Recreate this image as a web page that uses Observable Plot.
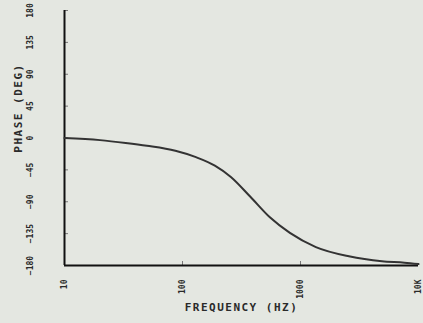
<!DOCTYPE html>
<html>
<head>
<meta charset="utf-8">
<script src="https://cdn.jsdelivr.net/npm/d3@7"></script>
<script src="https://cdn.jsdelivr.net/npm/@observablehq/plot@0.6"></script>
<style>
  html, body { margin: 0; padding: 0; background: #e4e7e1; }
  #chart { width: 423px; height: 323px; overflow: hidden; }
</style>
</head>
<body>
<div id="chart"></div>
<script>
const freq  = [10, 20, 33, 50, 87, 130, 188, 257, 376, 550, 813, 1350, 2570, 4900, 7600, 10000];
const phase = [0, -3, -7, -11, -18, -27, -39, -55, -83, -112, -134, -154, -167, -174, -176, -178];
const xTicks = [10, 100, 1000, 10000];
const xTickLabels = ["10", "100", "1000", "10K"];
const yTicks = [-180, -135, -90, -45, 0, 45, 90, 135, 180];
const xDomain = [10, 10000];
const yDomain = [-180, 180];
const xTitle = "FREQUENCY (HZ)";
const yTitle = "PHASE (DEG)";

const data = freq.map((f, i) => ({f, p: phase[i]}));
const ink = "#2a2a2a";

const chart = Plot.plot({
  width: 423,
  height: 323,
  marginLeft: 64,
  marginRight: 5,
  marginTop: 10,
  marginBottom: 58,
  style: {background: "#e4e7e1", color: ink, fontFamily: "'DejaVu Sans Mono', monospace", fontWeight: "bold", overflow: "visible"},
  x: {type: "log", domain: xDomain},
  y: {domain: yDomain},
  marks: [
    Plot.axisY(yTicks, {tickSize: 4, dx: 4, text: null, label: null, stroke: "#777", strokeWidth: 1}),
    Plot.axisX(xTicks.slice(1, 3), {tickSize: 4, dy: -4, text: null, label: null, stroke: "#777", strokeWidth: 1}),
    Plot.axisY(yTicks, {tickSize: 0, tickPadding: 32, tickRotate: -90, fontSize: 8, label: null, fill: ink}),
    Plot.axisX(xTicks, {tickSize: 0, tickPadding: 14, tickRotate: -90, fontSize: 8, label: null, fill: ink,
      tickFormat: (d) => xTickLabels[xTicks.indexOf(d)]}),
    Plot.ruleX([xDomain[0]], {stroke: "#111", strokeWidth: 2}),
    Plot.ruleY([yDomain[0]], {stroke: "#111", strokeWidth: 2}),
    Plot.line(data, {x: "f", y: "p", stroke: "#333", strokeWidth: 2, curve: "monotone-x"}),
    Plot.text([xTitle], {frameAnchor: "bottom", dy: 45, fontSize: 11, fill: ink}),
    Plot.text([yTitle], {frameAnchor: "left", textAnchor: "middle", rotate: -90, dx: -46, dy: -30, fontSize: 11, fill: ink})
  ]
});
chart.querySelectorAll("text").forEach(t => {
  if (t.textContent === xTitle || t.textContent === yTitle) t.setAttribute("letter-spacing", "1.5");
});
document.getElementById("chart").appendChild(chart);
</script>
</body>
</html>
